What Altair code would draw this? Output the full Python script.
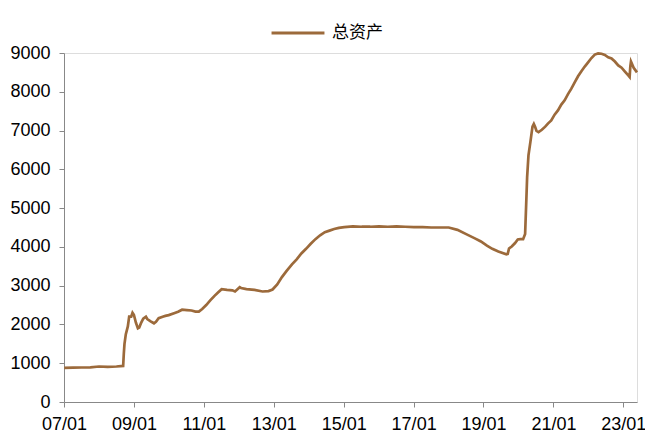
import altair as alt
import pandas as pd

# Total assets (billions), sampled dates
dates = [
    "2007-01-03", "2007-04-04", "2007-07-04", "2007-10-03", "2008-01-02",
    "2008-04-02", "2008-07-02", "2008-09-10", "2008-09-17", "2008-09-24",
    "2008-10-08", "2008-10-29", "2008-11-12", "2008-12-03", "2008-12-17",
    "2008-12-31", "2009-01-21", "2009-02-11", "2009-02-25", "2009-03-18",
    "2009-04-08", "2009-05-06", "2009-05-20", "2009-06-24", "2009-07-29",
    "2009-08-19", "2009-09-16", "2009-10-28", "2009-11-25", "2009-12-30",
    "2010-02-24", "2010-04-07", "2010-05-19", "2010-07-07", "2010-08-25",
    "2010-10-06", "2010-11-10", "2010-12-15", "2011-01-26", "2011-03-09",
    "2011-04-20", "2011-06-01", "2011-07-06", "2011-08-31", "2011-10-26",
    "2011-11-23", "2012-01-11", "2012-01-25", "2012-03-21", "2012-06-13",
    "2012-09-05", "2012-11-07", "2012-12-19", "2013-02-06", "2013-03-27",
    "2013-05-15", "2013-07-10", "2013-08-28", "2013-10-16", "2013-12-04",
    "2014-01-22", "2014-03-12", "2014-04-30", "2014-06-18", "2014-08-06",
    "2014-09-24", "2014-11-12", "2015-01-07", "2015-04-08", "2015-07-08",
    "2015-10-07", "2016-01-06", "2016-04-06", "2016-07-06", "2016-10-05",
    "2017-01-04", "2017-04-05", "2017-07-05", "2017-10-04", "2018-01-03",
    "2018-04-04", "2018-07-04", "2018-10-03", "2018-12-05", "2019-02-06",
    "2019-04-03", "2019-06-05", "2019-08-28", "2019-09-11", "2019-09-25",
    "2019-10-23", "2019-11-27", "2019-12-25", "2020-01-22", "2020-02-19",
    "2020-03-11", "2020-03-25", "2020-04-01", "2020-04-15", "2020-05-06",
    "2020-05-27", "2020-06-10", "2020-06-24", "2020-07-08", "2020-07-29",
    "2020-09-02", "2020-10-07", "2020-11-04", "2020-12-09", "2021-01-13",
    "2021-02-17", "2021-03-24", "2021-04-28", "2021-06-02", "2021-07-07",
    "2021-08-11", "2021-09-15", "2021-10-20", "2021-11-24", "2021-12-29",
    "2022-02-02", "2022-03-09", "2022-04-13", "2022-05-18", "2022-06-22",
    "2022-07-27", "2022-08-31", "2022-10-05", "2022-11-09", "2022-12-14",
    "2023-01-18", "2023-02-22", "2023-03-08", "2023-03-15", "2023-03-22",
    "2023-04-19", "2023-05-24",
]
values = [
    880, 885, 890, 895, 915,
    905, 915, 930, 1250, 1500,
    1750, 1950, 2200, 2200, 2300,
    2250, 2050, 1900, 1920, 2050,
    2150, 2200, 2140, 2080, 2030,
    2070, 2160, 2200, 2220, 2240,
    2290, 2330, 2380, 2370, 2360,
    2330, 2330, 2400, 2500, 2620,
    2730, 2830, 2910, 2890, 2880,
    2850, 2960, 2940, 2910, 2890,
    2850, 2860, 2900, 3030, 3220,
    3380, 3550, 3680, 3830, 3950,
    4080, 4200, 4300, 4380, 4420,
    4460, 4490, 4510, 4530, 4520,
    4520, 4530, 4520, 4530, 4520,
    4510, 4510, 4500, 4500, 4500,
    4440, 4330, 4220, 4140, 4030,
    3950, 3880, 3810, 3820, 3960,
    4010, 4100, 4190, 4200, 4200,
    4330, 5300, 5800, 6360, 6720,
    7100, 7170, 7090, 6990, 6960,
    7020, 7100, 7180, 7260, 7410,
    7520, 7670, 7780, 7940, 8080,
    8240, 8400, 8530, 8650, 8760,
    8870, 8960, 8990, 8980, 8950,
    8890, 8860, 8780, 8680, 8620,
    8520, 8420, 8380, 8650, 8780,
    8620, 8500,
]
series_name = "总资产"

df = pd.DataFrame({"date": dates, "value": values, "series": series_name})

tick_years = list(range(2007, 2024, 2))
x_ticks = [alt.DateTime(year=y, month=1, date=1, utc=True) for y in tick_years]
y_ticks = list(range(0, 9001, 1000))

label_font = "Liberation Sans"
line_color = "#9C6A3B"

chart = (
    alt.Chart(df)
    .mark_line(strokeWidth=2.7, interpolate="linear")
    .encode(
        x=alt.X(
            "date:T",
            scale=alt.Scale(
                type="utc",
                domain=[
                    alt.DateTime(year=2007, month=1, date=1, utc=True),
                    alt.DateTime(year=2023, month=5, date=24, utc=True),
                ],
            ),
            axis=alt.Axis(
                title=None,
                values=x_ticks,
                format="%y/%m",
                grid=False,
                labelFontSize=18,
                labelPadding=8,
                labelFlush=False,
                labelOverlap=False,
                labelBound=False,
                tickSize=5,
            ),
        ),
        y=alt.Y(
            "value:Q",
            scale=alt.Scale(domain=[0, 9000], nice=False),
            axis=alt.Axis(
                title=None,
                values=y_ticks,
                format="d",
                grid=False,
                labelFontSize=18,
                labelPadding=9,
                labelFlush=False,
                tickSize=5,
            ),
        ),
        color=alt.Color(
            "series:N",
            scale=alt.Scale(range=[line_color]),
            legend=alt.Legend(
                title=None,
                orient="none",
                legendX=206,
                legendY=-48,
                direction="horizontal",
                symbolType="stroke",
                symbolSize=2800,
                symbolStrokeWidth=3,
                labelFont="Noto Sans CJK SC",
                labelFontSize=17,
                labelOffset=6,
                padding=0,
            ),
        ),
    )
    .properties(
        width=573,
        height=349,
        autosize=alt.AutoSizeParams(type="none"),
        padding={"left": 64, "top": 53, "right": 8, "bottom": 34},
    )
    .configure_view(stroke=None)
    .configure_axis(
        labelFont=label_font,
        labelColor="#000000",
        domainColor="#000000",
        tickColor="#000000",
        domainWidth=1.6,
        tickWidth=1.6,
    )
    .configure(background="white")
)

chart.save("out.html", embed_options={"renderer": "svg", "actions": False})
